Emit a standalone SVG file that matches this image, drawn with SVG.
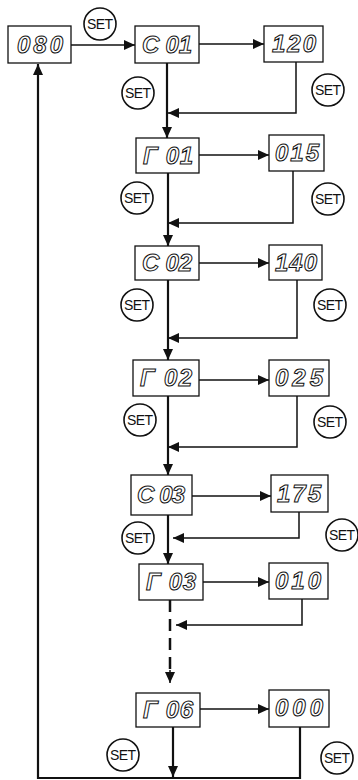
<svg xmlns="http://www.w3.org/2000/svg" width="358" height="780" viewBox="0 0 358 780">
<defs>
<style>
.box{fill:#fff;stroke:#111;stroke-width:1.3}
.seg{font-family:"Liberation Sans",Arial,sans-serif;font-style:italic;font-weight:bold;font-size:24px;fill:#fff;stroke:#111;stroke-width:1;text-anchor:middle}
.set circle{fill:#fff;stroke:#111;stroke-width:1.6}
.set text{font-family:"Liberation Sans",Arial,sans-serif;font-size:14px;fill:#111;text-anchor:middle}
.ln{fill:none;stroke:#111;stroke-width:1.5}
.mn{fill:none;stroke:#111;stroke-width:2.2}
.ds{fill:none;stroke:#111;stroke-width:2.5;stroke-dasharray:12 7}
</style>
<marker id="ah" markerUnits="userSpaceOnUse" markerWidth="11" markerHeight="10" refX="11" refY="5" orient="auto">
<path d="M0,0 L11,5 L0,10 z" fill="#111"/>
</marker>
</defs>
<rect width="358" height="780" fill="#fff"/>
<g id="connectors">
<line class="ln" x1="71" y1="45" x2="135" y2="45" marker-end="url(#ah)"/>
<line class="ln" x1="199" y1="44" x2="264" y2="44" marker-end="url(#ah)"/>
<line class="mn" x1="167" y1="63" x2="167" y2="138" marker-end="url(#ah)"/>
<polyline class="ln" points="296,62 296,113 168,113" marker-end="url(#ah)"/>
<line class="ln" x1="199" y1="155" x2="269" y2="155" marker-end="url(#ah)"/>
<line class="mn" x1="168" y1="173" x2="168" y2="246" marker-end="url(#ah)"/>
<polyline class="ln" points="293,171 293,223 168,223" marker-end="url(#ah)"/>
<line class="ln" x1="199" y1="263" x2="269" y2="263" marker-end="url(#ah)"/>
<line class="mn" x1="168" y1="280" x2="168" y2="360" marker-end="url(#ah)"/>
<polyline class="ln" points="297,280 297,338 168,338" marker-end="url(#ah)"/>
<line class="ln" x1="199" y1="380" x2="269" y2="380" marker-end="url(#ah)"/>
<line class="mn" x1="168" y1="396" x2="168" y2="475" marker-end="url(#ah)"/>
<polyline class="ln" points="297,396 297,447 168,447" marker-end="url(#ah)"/>
<line class="ln" x1="192" y1="496" x2="271" y2="496" marker-end="url(#ah)"/>
<line class="mn" x1="168" y1="515" x2="168" y2="564" marker-end="url(#ah)"/>
<polyline class="ln" points="299,512 299,538 173,538" marker-end="url(#ah)"/>
<line class="ln" x1="203" y1="582" x2="269" y2="582" marker-end="url(#ah)"/>
<line class="ds" x1="170" y1="600" x2="170" y2="672"/>
<line class="ln" x1="170" y1="670" x2="170" y2="683" marker-end="url(#ah)"/>
<polyline class="ln" points="302,599 302,625 176,625" marker-end="url(#ah)"/>
<line class="ln" x1="200" y1="709" x2="269" y2="709" marker-end="url(#ah)"/>
<line class="mn" x1="173" y1="727" x2="173" y2="777" marker-end="url(#ah)"/>
<polyline class="mn" points="300,727 300,778 38,778 38,64" marker-end="url(#ah)"/>
</g>
<g id="n080"><rect class="box" x="8" y="26" width="63" height="37"/><text class="seg" x="40" y="53" textLength="46">080</text></g>
<g id="nC01"><rect class="box" x="135" y="26" width="64" height="37"/><text class="seg" x="167" y="53" textLength="50">C 01</text></g>
<g id="n120"><rect class="box" x="264" y="26" width="59" height="36"/><text class="seg" x="294" y="52" textLength="44">120</text></g>
<g id="nR01"><rect class="box" x="136" y="138" width="63" height="35"/><text class="seg" x="168" y="164" textLength="50">Γ 01</text></g>
<g id="n015"><rect class="box" x="269" y="135" width="55" height="36"/><text class="seg" x="297" y="161" textLength="44">015</text></g>
<g id="nC02"><rect class="box" x="135" y="246" width="64" height="34"/><text class="seg" x="167" y="271" textLength="50">C 02</text></g>
<g id="n140"><rect class="box" x="269" y="245" width="53" height="35"/><text class="seg" x="296" y="271" textLength="42">140</text></g>
<g id="nR02"><rect class="box" x="133" y="360" width="66" height="36"/><text class="seg" x="166" y="386" textLength="52">Γ 02</text></g>
<g id="n025"><rect class="box" x="269" y="360" width="60" height="36"/><text class="seg" x="299" y="386" textLength="48">025</text></g>
<g id="nC03"><rect class="box" x="131" y="475" width="61" height="40"/><text class="seg" x="161" y="503" textLength="48">C 03</text></g>
<g id="n175"><rect class="box" x="271" y="475" width="57" height="37"/><text class="seg" x="299" y="502" textLength="44">175</text></g>
<g id="nR03"><rect class="box" x="139" y="564" width="64" height="36"/><text class="seg" x="171" y="590" textLength="50">Γ 03</text></g>
<g id="n010"><rect class="box" x="269" y="563" width="59" height="36"/><text class="seg" x="298" y="589" textLength="46">010</text></g>
<g id="nR06"><rect class="box" x="136" y="693" width="64" height="34"/><text class="seg" x="168" y="718" textLength="50">Γ 06</text></g>
<g id="n000"><rect class="box" x="269" y="690" width="60" height="37"/><text class="seg" x="299" y="716" textLength="48">000</text></g>
<g id="sets">
<g class="set" id="set0"><circle cx="100" cy="24" r="16"/><text x="100" y="29" textLength="26">SET</text></g>
<g class="set" id="set1"><circle cx="138" cy="93" r="16"/><text x="138" y="98" textLength="26">SET</text></g>
<g class="set" id="set2"><circle cx="328" cy="90" r="16"/><text x="328" y="95" textLength="26">SET</text></g>
<g class="set" id="set3"><circle cx="137" cy="198" r="16"/><text x="137" y="203" textLength="26">SET</text></g>
<g class="set" id="set4"><circle cx="328" cy="199" r="16"/><text x="328" y="204" textLength="26">SET</text></g>
<g class="set" id="set5"><circle cx="137" cy="305" r="16"/><text x="137" y="310" textLength="26">SET</text></g>
<g class="set" id="set6"><circle cx="330" cy="305" r="16"/><text x="330" y="310" textLength="26">SET</text></g>
<g class="set" id="set7"><circle cx="140" cy="420" r="16"/><text x="140" y="425" textLength="26">SET</text></g>
<g class="set" id="set8"><circle cx="330" cy="422" r="16"/><text x="330" y="427" textLength="26">SET</text></g>
<g class="set" id="set9"><circle cx="138" cy="538" r="16"/><text x="138" y="543" textLength="26">SET</text></g>
<g class="set" id="set10"><circle cx="342" cy="535" r="16"/><text x="342" y="540" textLength="26">SET</text></g>
<g class="set" id="set11"><circle cx="123" cy="755" r="16"/><text x="123" y="760" textLength="26">SET</text></g>
<g class="set" id="set12"><circle cx="337" cy="758" r="16"/><text x="337" y="763" textLength="26">SET</text></g>
</g>
</svg>
